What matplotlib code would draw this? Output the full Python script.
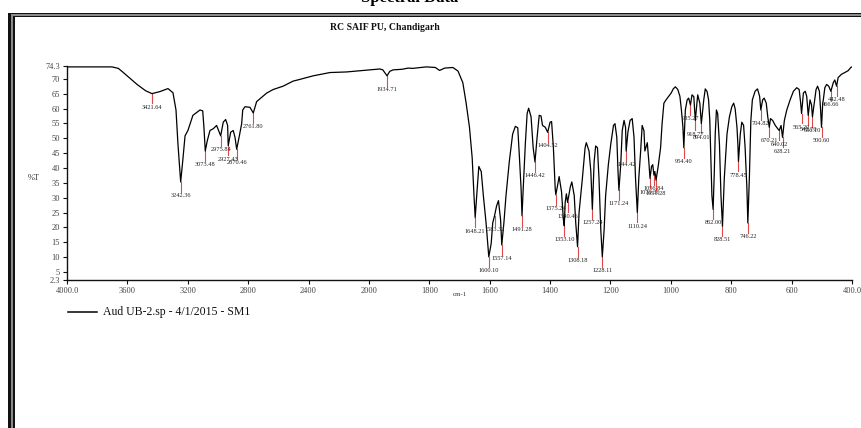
import numpy as np
import matplotlib
matplotlib.use("Agg")
import matplotlib.pyplot as plt
from matplotlib.lines import Line2D
from matplotlib.patches import Rectangle

# ---------------- data ----------------
wavenumber = [4000, 3702, 3660, 3629, 3536, 3480, 3437, 3384, 3331, 3298, 3278, 3265,
              3247, 3234, 3218, 3199, 3166, 3119, 3101, 3093, 3084, 3071, 3053, 3031,
              3009, 2982, 2965, 2949, 2936, 2932, 2916, 2899, 2887, 2876, 2859, 2843,
              2836, 2821, 2788, 2766, 2744, 2726, 2677, 2634, 2569, 2503, 2457, 2369,
              2258, 2148, 2060, 2000,
              1964, 1954, 1940, 1931, 1920, 1890, 1870, 1855, 1810, 1780, 1766, 1749,
              1722, 1705, 1689, 1678, 1667, 1658, 1652, 1648, 1643, 1636, 1628, 1621,
              1612, 1603, 1595, 1590, 1584, 1577, 1571, 1564, 1560, 1553, 1546, 1535,
              1524, 1515, 1507, 1502, 1496, 1493, 1489, 1482, 1476, 1471, 1463, 1456,
              1450, 1443, 1436, 1430, 1425, 1416, 1408, 1400, 1395, 1389, 1383, 1381,
              1375, 1370, 1362, 1356, 1353, 1350, 1346, 1342, 1333, 1328, 1320, 1315,
              1309, 1304, 1293, 1284, 1280, 1271, 1265, 1260, 1254, 1249, 1243, 1238,
              1232, 1227, 1221, 1216, 1207, 1199, 1190, 1185, 1179, 1175, 1172, 1166,
              1161, 1155, 1150, 1148, 1142, 1135, 1128, 1122, 1117, 1111, 1106, 1100,
              1095, 1089, 1086, 1078, 1073, 1069, 1064, 1060, 1056, 1053, 1049, 1042,
              1034, 1029, 1023, 1016, 1007, 999, 992, 985, 977, 970, 965, 960,
              957, 952, 946, 941, 935, 930, 924, 919, 911, 904, 899, 891,
              886, 880, 875, 871, 867, 864, 860, 856, 853, 849, 845, 839,
              834, 829, 823, 814, 806, 798, 792, 787, 781, 778, 776, 770,
              765, 759, 754, 748, 745, 740, 735, 730, 721, 713, 706, 702,
              696, 691, 684, 679, 674, 670, 663, 654, 646, 641, 635, 630,
              624, 616, 605, 594, 583, 575, 570, 567, 561, 555, 550, 545,
              539, 534, 531, 525, 519, 514, 508, 504, 501, 497, 495, 490,
              484, 477, 470, 462, 457, 451, 446, 435, 424, 413, 404, 400]
transmittance = [74.0, 74.0, 73.5, 72.2, 68.1, 66.0, 65.0, 65.7, 66.7, 65.3, 59.5, 48.0,
                 35.3, 42.0, 50.8, 52.6, 57.7, 59.5, 59.2, 53.7, 45.7, 49.1, 52.6, 53.2,
                 54.3, 50.8, 55.4, 56.3, 54.3, 47.5, 52.0, 52.6, 50.3, 46.3, 50.6, 54.9,
                 59.5, 60.6, 60.4, 58.5, 62.3, 63.1, 65.2, 66.4, 67.5, 69.2, 69.8, 71.0,
                 72.1, 72.3, 72.7, 73.0,
                 73.3, 73.0, 71.0, 72.5, 73.0, 73.2, 73.6, 73.5, 74.0, 73.8, 72.8, 73.6,
                 73.8, 72.6, 68.7, 61.8, 53.7, 43.4, 30.7, 23.3, 30.7, 40.5, 38.8, 30.7,
                 21.5, 10.1, 14.6, 21.5, 23.9, 27.3, 29.0, 22.7, 14.1, 21.5, 30.7, 42.2,
                 51.4, 54.0, 53.5, 44.5, 33.0, 23.9, 33.0, 48.0, 58.3, 60.1, 57.2, 46.8,
                 42.0, 50.3, 57.7, 57.5, 54.3, 53.7, 52.0, 55.4, 55.6, 46.8, 33.0, 31.0,
                 34.2, 37.1, 31.9, 22.7, 20.5, 28.4, 31.3, 28.4, 33.6, 35.3, 30.7, 21.5,
                 13.5, 25.0, 36.5, 46.8, 48.5, 45.7, 38.8, 26.1, 42.2, 47.4, 46.8, 36.5,
                 19.2, 10.1, 19.2, 30.7, 41.1, 48.0, 54.3, 54.9, 50.3, 38.8, 32.5, 41.1,
                 52.6, 56.0, 53.7, 45.7, 52.2, 56.0, 56.6, 50.3, 36.5, 25.0, 36.8, 45.7,
                 54.3, 52.5, 45.7, 48.5, 42.2, 36.5, 40.5, 41.1, 37.6, 38.8, 35.9, 40.5,
                 46.8, 54.9, 61.8, 62.9, 64.1, 65.2, 66.6, 67.3, 66.4, 64.1, 59.5, 53.7,
                 46.8, 59.5, 62.9, 63.5, 61.2, 64.6, 64.0, 56.0, 64.6, 61.8, 54.9, 62.9,
                 66.6, 65.7, 62.9, 56.0, 42.2, 30.7, 26.1, 38.8, 51.4, 59.5, 58.3, 48.0,
                 30.7, 20.4, 36.5, 51.4, 57.2, 60.6, 61.8, 59.9, 53.7, 48.0, 42.2, 51.4,
                 55.4, 54.3, 46.8, 33.0, 21.5, 36.5, 56.0, 62.9, 65.8, 66.6, 64.1, 59.5,
                 62.9, 63.5, 61.8, 57.2, 53.7, 56.6, 56.0, 54.3, 53.2, 52.6, 54.3, 50.3,
                 56.0, 59.5, 62.9, 65.8, 67.0, 66.4, 61.8, 58.3, 65.2, 65.8, 64.1, 57.7,
                 62.9, 61.2, 57.2, 61.8, 66.4, 67.5, 65.8, 59.5, 53.7, 61.8, 62.9, 67.0,
                 68.1, 67.5, 65.8, 68.7, 69.6, 67.5, 70.4, 71.5, 72.1, 72.7, 73.8, 74.0]

peak_wn = [3437, 3247, 3084, 2982, 2932, 2876, 2766, 1940, 1648, 1603, 1584, 1560,
           1493, 1450, 1408, 1381, 1353, 1342, 1309, 1260, 1227, 1172, 1148, 1111,
           1069, 1056, 1049, 957, 935, 919, 899, 860, 829, 776, 745, 702,
           674, 641, 630, 567, 545, 531, 501, 470, 451]
peak_labels = ["3421.64", "3242.36", "3073.48", "2975.84", "2927.43", "2870.46", "2761.80",
               "1934.71", "1648.21", "1600.10", "1583.32", "1557.14", "1491.28", "1446.42",
               "1404.52", "1375.24", "1353.10", "1340.46", "1308.18", "1257.24", "1228.11",
               "1171.24", "1144.42", "1110.24", "1070.36", "1056.84", "1051.28", "954.40",
               "935.27", "918.77", "894.01", "862.00", "828.51", "778.45", "746.22",
               "704.82", "670.21", "640.02", "628.21", "565.20", "542.70", "536.10",
               "500.60", "466.66", "442.48"]

xtick_values = [4000, 3600, 3200, 2800, 2400, 2000, 1800, 1600, 1400, 1200, 1000, 800, 600, 400]
xtick_labels = ["4000.0", "3600", "3200", "2800", "2400", "2000", "1800", "1600", "1400",
                "1200", "1000", "800", "600", "400.0"]
ytick_values = [74.3, 70, 65, 60, 55, 50, 45, 40, 35, 30, 25, 20, 15, 10, 5, 2.3]
ytick_labels = ["74.3", "70", "65", "60", "55", "50", "45", "40", "35", "30", "25", "20",
                "15", "10", "5", "2.3"]

title_text = "RC SAIF PU, Chandigarh"
legend_text = "Aud UB-2.sp - 4/1/2015 - SM1"
top_text = "Spectral Data"
x_label = "cm-1"
y_label = "%T"

# ---------------- figure ----------------
W, H = 861, 428
SERIF = ["Liberation Serif", "DejaVu Serif"]
fig = plt.figure(figsize=(W / 100, H / 100), dpi=100)
fig.patch.set_facecolor("white")


def fx(px):
    return px / W


def fy(py):
    return 1 - py / H


# window frame (thick dark border, left and top)
fig.add_artist(Rectangle((fx(8), fy(H)), 7 / W, (H - 12.5) / H, transform=fig.transFigure,
                         facecolor="#111111", edgecolor="none"))
fig.add_artist(Rectangle((fx(8), fy(17)), (W - 8) / W, 4.5 / H, transform=fig.transFigure,
                         facecolor="#111111", edgecolor="none"))
fig.add_artist(Rectangle((fx(11.3), fy(H)), 1.4 / W, (H - 14.3) / H, transform=fig.transFigure,
                         facecolor="#8a8a8a", edgecolor="none"))
fig.add_artist(Rectangle((fx(11.3), fy(15.7)), (W - 11.3) / W, 1.4 / H, transform=fig.transFigure,
                         facecolor="#8a8a8a", edgecolor="none"))

# cut-off heading at the top edge (only its lower part shows)
fig.text(fx(410), fy(1.5), top_text, ha="center", va="baseline", fontsize=12,
         fontweight="bold", family=SERIF, color="black")

fig.text(fx(385), fy(28), title_text, ha="center", va="center", fontsize=7,
         fontweight="bold", family=SERIF, color="#111111")


def fwd(w):
    w = np.asarray(w, dtype=float)
    return np.where(w > 2000, 2000 + (w - 2000) / 2.0, w)


def inv(u):
    u = np.asarray(u, dtype=float)
    return np.where(u > 2000, 2000 + (u - 2000) * 2.0, u)


ax = fig.add_axes([fx(67), fy(280), (852 - 67) / W, (280 - 66) / H])
ax.set_xscale("function", functions=(fwd, inv))
ax.set_xlim(4000, 400)
ax.set_ylim(2.3, 74.3)
ax.set_facecolor("white")

for s in ("top", "right"):
    ax.spines[s].set_visible(False)
for s in ("left", "bottom"):
    ax.spines[s].set_linewidth(1.0)
    ax.spines[s].set_color("#111111")

ax.set_xticks(xtick_values)
ax.set_xticklabels(xtick_labels)
ax.set_yticks(ytick_values)
ax.set_yticklabels(ytick_labels)
ax.minorticks_off()
ax.tick_params(axis="both", direction="out", length=3, width=0.8, colors="#111111",
               labelsize=6, labelcolor="#444444", pad=2)
for lab in ax.get_xticklabels() + ax.get_yticklabels():
    lab.set_family(SERIF)

ax.plot(wavenumber, transmittance, color="black", lw=0.9, zorder=3)

wn_rev = np.array(wavenumber[::-1], dtype=float)
t_rev = np.array(transmittance[::-1], dtype=float)
for w, lab in zip(peak_wn, peak_labels):
    t = float(np.interp(w, wn_rev, t_rev))
    ax.plot([w, w], [t, t - 3.3], color="#e04848", lw=0.8, zorder=2)
    ax.text(w, t - 4.6, lab, ha="center", va="center", fontsize=4.6, family=SERIF,
            color="#222222", zorder=4)

fig.text(fx(460), fy(295), x_label, ha="center", va="center", fontsize=5,
         family=SERIF, color="#333333")
fig.text(fx(34), fy(178), y_label, ha="center", va="center", fontsize=6,
         family=SERIF, color="#333333")

# legend
fig.add_artist(Line2D([fx(68), fx(97)], [fy(312), fy(312)], color="black", lw=1.1))
fig.text(fx(103), fy(312), legend_text, ha="left", va="center", fontsize=8.5,
         family=SERIF, color="#111111")

fig.savefig("out.png", dpi=100, facecolor="white")
